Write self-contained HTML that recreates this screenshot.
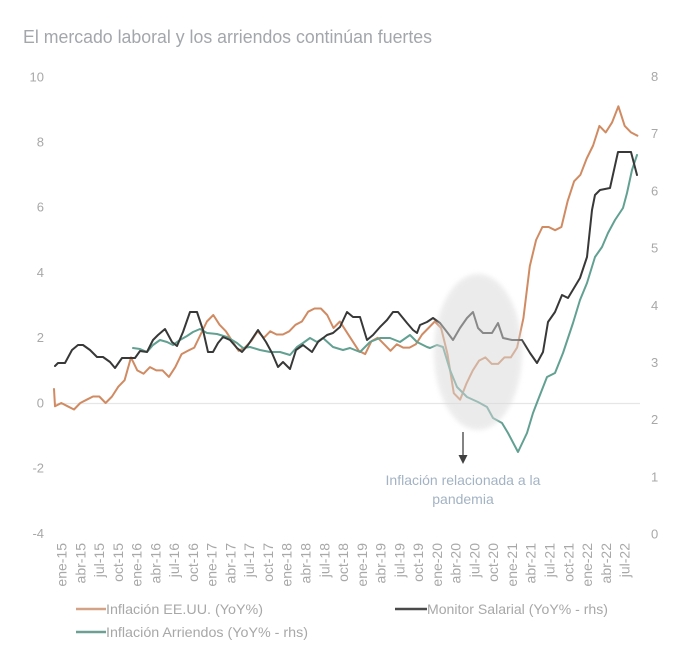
<!DOCTYPE html>
<html>
<head>
<meta charset="utf-8">
<style>
html,body{margin:0;padding:0;background:#fff;}
svg{display:block;}
text{font-family:"Liberation Sans",Arial,sans-serif;}
</style>
</head>
<body>
<svg width="691" height="669" viewBox="0 0 691 669" xmlns="http://www.w3.org/2000/svg">
<rect width="691" height="669" fill="#fff"/>
<defs>
<filter id="blur" x="-20%" y="-20%" width="140%" height="140%"><feGaussianBlur stdDeviation="2.5"/></filter>
</defs>
<!-- title -->
<text x="23" y="43" font-size="18" fill="#a3a7ac" textLength="409" lengthAdjust="spacingAndGlyphs">El mercado laboral y los arriendos continúan fuertes</text>

<!-- left axis labels -->
<g font-size="13" fill="#a8a8a8" text-anchor="end">
<text x="44" y="81.5">10</text>
<text x="44" y="146.5">8</text>
<text x="44" y="211.5">6</text>
<text x="44" y="277">4</text>
<text x="44" y="342">2</text>
<text x="44" y="407.5">0</text>
<text x="44" y="472.5">-2</text>
<text x="44" y="538">-4</text>
</g>
<!-- right axis labels -->
<g font-size="13" fill="#a8a8a8">
<text x="651" y="81">8</text>
<text x="651" y="138">7</text>
<text x="651" y="195.5">6</text>
<text x="651" y="252.5">5</text>
<text x="651" y="310">4</text>
<text x="651" y="367">3</text>
<text x="651" y="424">2</text>
<text x="651" y="481.5">1</text>
<text x="651" y="538.5">0</text>
</g>

<!-- zero gridline -->
<line x1="55" y1="403.5" x2="640" y2="403.5" stroke="#e6e6e6" stroke-width="1.2"/>

<!-- series -->
<g fill="none" stroke-width="2" stroke-linejoin="round" stroke-linecap="round">
<polyline stroke="#d08b63" points="54,389 55,406.3 61.3,403 67.7,406.3 74,409.5 80.3,403 86.7,399.7 93,396.5 99.3,396.5 105.6,403 112,396.5 118.3,386.7 124.6,380.2 131,357.4 137.3,370.4 143.6,373.7 150,367.1 156.3,370.4 162.6,370.4 168.9,376.9 175.3,367.1 181.6,354.1 187.9,350.8 194.3,347.6 200.6,334.5 206.9,321.5 213.3,315 219.6,324.8 225.9,331.3 232.2,341.1 238.6,350.8 244.9,347.6 251.2,341.1 257.6,331.3 263.9,337.8 270.2,331.3 276.6,334.5 282.9,334.5 289.2,331.3 295.5,324.8 301.9,321.5 308.2,311.7 314.5,308.5 320.9,308.5 327.2,315 333.5,328 339.9,321.5 346.2,331.3 352.5,341.1 358.8,350.8 365.2,354.1 371.5,341.1 377.8,337.8 384.2,344.3 390.5,350.8 396.8,344.3 403.2,347.6 409.5,347.6 415.8,344.3 422.1,334.5 428.5,328 434.8,321.5 441.1,328 447.5,354.1 453.8,393.2 460.1,399.7 466.5,383.4 472.8,370.4 479.1,360.6 485.4,357.4 491.8,363.9 498.1,363.9 504.4,357.4 510.8,357.4 517.1,347.6 523.4,318.2 529.8,266.1 536.1,240 542.4,227 548.7,227 555.1,230.2 561.4,227 567.7,200.9 574.1,181.3 580.4,174.8 586.7,158.5 593.1,145.5 599.4,125.9 605.7,132.4 612,122.6 618.4,106.3 624.7,125.9 631,132.4 637.4,135.7"/>
<polyline stroke="#62a091" points="133,348 140,349 147,352 153,345 160,340 167,342 173,345 180,340 187,336 193,332 200,329 207,333 217,334 227,337 237,343 243,348 250,347 260,350 270,352 280,352 290,355 297,347 303,343 310,338 317,342 323,338 333,347 343,350 350,348 360,352 370,342 380,338 390,338 400,342 410,335 417,342 427,347 430,348 437,345 443,347 450,370 457,387 467,397 478,402 487,407 493,418 502,423 508,433 518,452 527,433 533,413 538,400 547,377 555,373 563,353 573,323 580,300 587,283 595,257 602,247 608,233 615,220 623,208 627,193 632,170 637,155"/>
<polyline stroke="#383838" points="55,366 58,363 65,363 72,350 78,345 83,345 90,350 97,357 103,357 110,362 115,368 122,358 128,358 135,358 140,351 147,352 153,340 158,335 165,329 172,342 177,346 183,332 190,312 197,312 203,330 208,352 213,352 218,343 223,337 230,340 237,348 242,352 248,345 258,330 266,342 272,353 278,367 283,362 290,369 296,350 303,345 312,352 318,342 327,335 333,333 340,327 347,312 353,317 360,317 367,340 373,335 380,327 387,320 393,312 398,312 407,323 413,330 417,333 420,325 427,322 433,318 440,323 447,332 453,340 460,328 467,318 473,312 478,328 483,333 492,333 498,323 503,338 512,340 522,340 530,353 537,363 543,352 548,322 555,312 562,295 568,298 580,278 587,257 592,210 595,195 600,190 610,188 618,152 631,152 637,175"/>
</g>

<!-- ellipse overlay -->
<ellipse cx="478" cy="352" rx="44" ry="78" fill="#d9d9d9" opacity="0.5" filter="url(#blur)"/>

<!-- arrow -->
<line x1="463" y1="432" x2="463" y2="456" stroke="#404040" stroke-width="1.3"/>
<polygon points="458.5,455 467.5,455 463,464" fill="#404040"/>

<!-- annotation -->
<g font-size="14" fill="#a3b3c3" text-anchor="middle">
<text x="463" y="485">Inflación relacionada a la</text>
<text x="463" y="504">pandemia</text>
</g>

<!-- x labels -->
<g font-size="14" fill="#a8a8a8" text-anchor="end">
<text transform="translate(66.5,543) rotate(-90)">ene-15</text>
<text transform="translate(85.3,543) rotate(-90)">abr-15</text>
<text transform="translate(104,543) rotate(-90)">jul-15</text>
<text transform="translate(122.8,543) rotate(-90)">oct-15</text>
<text transform="translate(141.6,543) rotate(-90)">ene-16</text>
<text transform="translate(160.4,543) rotate(-90)">abr-16</text>
<text transform="translate(179.1,543) rotate(-90)">jul-16</text>
<text transform="translate(197.9,543) rotate(-90)">oct-16</text>
<text transform="translate(216.7,543) rotate(-90)">ene-17</text>
<text transform="translate(235.4,543) rotate(-90)">abr-17</text>
<text transform="translate(254.2,543) rotate(-90)">jul-17</text>
<text transform="translate(273,543) rotate(-90)">oct-17</text>
<text transform="translate(291.7,543) rotate(-90)">ene-18</text>
<text transform="translate(310.5,543) rotate(-90)">abr-18</text>
<text transform="translate(329.3,543) rotate(-90)">jul-18</text>
<text transform="translate(348,543) rotate(-90)">oct-18</text>
<text transform="translate(366.8,543) rotate(-90)">ene-19</text>
<text transform="translate(385.6,543) rotate(-90)">abr-19</text>
<text transform="translate(404.4,543) rotate(-90)">jul-19</text>
<text transform="translate(423.1,543) rotate(-90)">oct-19</text>
<text transform="translate(441.9,543) rotate(-90)">ene-20</text>
<text transform="translate(460.7,543) rotate(-90)">abr-20</text>
<text transform="translate(479.4,543) rotate(-90)">jul-20</text>
<text transform="translate(498.2,543) rotate(-90)">oct-20</text>
<text transform="translate(517,543) rotate(-90)">ene-21</text>
<text transform="translate(535.7,543) rotate(-90)">abr-21</text>
<text transform="translate(554.5,543) rotate(-90)">jul-21</text>
<text transform="translate(573.3,543) rotate(-90)">oct-21</text>
<text transform="translate(592,543) rotate(-90)">ene-22</text>
<text transform="translate(610.8,543) rotate(-90)">abr-22</text>
<text transform="translate(629.6,543) rotate(-90)">jul-22</text>
</g>

<!-- legend -->
<g stroke-width="2.5">
<line x1="76" y1="609" x2="106" y2="609" stroke="#d4a286"/>
<line x1="76" y1="632" x2="106" y2="632" stroke="#6e9f93"/>
<line x1="395" y1="609" x2="427" y2="609" stroke="#4a4a4a"/>
</g>
<g font-size="14" fill="#a8a8a8">
<text x="106" y="614" textLength="157" lengthAdjust="spacingAndGlyphs">Inflación EE.UU. (YoY%)</text>
<text x="106" y="637" textLength="202" lengthAdjust="spacingAndGlyphs">Inflación Arriendos (YoY% - rhs)</text>
<text x="427" y="614" textLength="181" lengthAdjust="spacingAndGlyphs">Monitor Salarial (YoY% - rhs)</text>
</g>
</svg>
</body>
</html>
